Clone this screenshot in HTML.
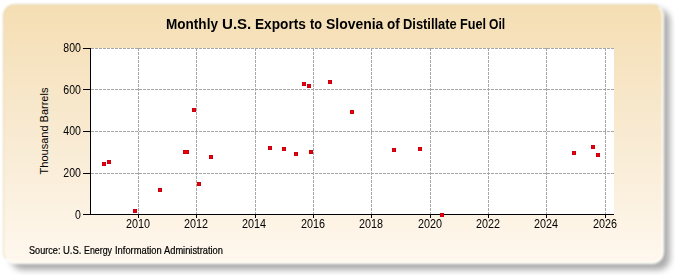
<!DOCTYPE html><html><head><meta charset="utf-8"><style>
html,body{margin:0;padding:0;background:#fff;width:675px;height:275px;overflow:hidden}
body{position:relative;font-family:"Liberation Sans",sans-serif}
.a{position:absolute}
#shadow{left:11px;top:9px;width:658.5px;height:260.5px;border-radius:12px;background:rgba(0,0,0,0.33);filter:blur(3px)}
#panel{left:2.5px;top:3.5px;width:661.5px;height:260px;border-radius:12px;box-sizing:border-box;
 border-style:solid;border-width:1px 2px 2px 1px;border-color:rgba(215,205,165,0.6) rgba(255,255,252,0.95) rgba(255,255,252,0.95) rgba(215,205,165,0.6);
 background:linear-gradient(to bottom,#F5DEB3 0%,#F8E9CF 45%,#FFF8EE 100%);filter:blur(0.9px)}
#plot{left:91px;top:48px;width:523px;height:166px;background:#fff}
.hg{height:1px;left:91px;width:523px;background:repeating-linear-gradient(to right,#a6a6a6 0 3px,transparent 3px 4px)}
.vg{width:1px;top:48px;height:166px;background:repeating-linear-gradient(to bottom,#a6a6a6 0 3px,transparent 3px 4px)}
.pt{width:4px;height:4px;background:#f20000;box-shadow:inset 0 0 0 1px rgba(185,0,25,0.75)}
.blk{background:#000}
.yl{font-size:12px;line-height:12px;text-align:right;width:40px;color:#000;transform:scaleX(0.88);transform-origin:right center}
.xl{font-size:12px;line-height:12px;text-align:center;width:40px;color:#000;transform:scaleX(0.9)}
.tt{top:16px;font-weight:bold;font-size:14px;line-height:16px;color:#000;white-space:nowrap;transform-origin:0 0}
.st{top:244.5px;font-size:10px;line-height:12px;color:#000;-webkit-text-stroke:0.2px #000;white-space:nowrap;transform-origin:0 0}
#ytitle{left:43.5px;top:131px;font-size:11px;line-height:12px;color:#000;white-space:nowrap;transform:translate(-50%,-50%) rotate(-90deg)}
</style></head><body>
<div id="shadow" class="a"></div>
<div id="panel" class="a"></div>
<div id="plot" class="a"></div>
<div class="a hg" style="top:48px"></div>
<div class="a hg" style="top:89px"></div>
<div class="a hg" style="top:131px"></div>
<div class="a hg" style="top:173px"></div>
<div class="a vg" style="left:138px"></div>
<div class="a vg" style="left:196px"></div>
<div class="a vg" style="left:255px"></div>
<div class="a vg" style="left:313px"></div>
<div class="a vg" style="left:371px"></div>
<div class="a vg" style="left:430px"></div>
<div class="a vg" style="left:488px"></div>
<div class="a vg" style="left:546px"></div>
<div class="a vg" style="left:605px"></div>
<div class="a blk" style="left:90px;top:48px;width:1px;height:167px"></div>
<div class="a blk" style="left:90px;top:214px;width:524px;height:1px"></div>
<div class="a blk" style="left:83px;top:48px;width:7px;height:1px"></div>
<div class="a yl" style="left:41px;top:42px">800</div>
<div class="a blk" style="left:83px;top:89px;width:7px;height:1px"></div>
<div class="a yl" style="left:41px;top:84px">600</div>
<div class="a blk" style="left:83px;top:131px;width:7px;height:1px"></div>
<div class="a yl" style="left:41px;top:125px">400</div>
<div class="a blk" style="left:83px;top:173px;width:7px;height:1px"></div>
<div class="a yl" style="left:41px;top:167px">200</div>
<div class="a blk" style="left:83px;top:214px;width:7px;height:1px"></div>
<div class="a yl" style="left:41px;top:209px">0</div>
<div class="a blk" style="left:138px;top:215px;width:1px;height:3px"></div>
<div class="a xl" style="left:118px;top:218px">2010</div>
<div class="a blk" style="left:196px;top:215px;width:1px;height:3px"></div>
<div class="a xl" style="left:176px;top:218px">2012</div>
<div class="a blk" style="left:255px;top:215px;width:1px;height:3px"></div>
<div class="a xl" style="left:234px;top:218px">2014</div>
<div class="a blk" style="left:313px;top:215px;width:1px;height:3px"></div>
<div class="a xl" style="left:293px;top:218px">2016</div>
<div class="a blk" style="left:371px;top:215px;width:1px;height:3px"></div>
<div class="a xl" style="left:351px;top:218px">2018</div>
<div class="a blk" style="left:430px;top:215px;width:1px;height:3px"></div>
<div class="a xl" style="left:410px;top:218px">2020</div>
<div class="a blk" style="left:488px;top:215px;width:1px;height:3px"></div>
<div class="a xl" style="left:468px;top:218px">2022</div>
<div class="a blk" style="left:546px;top:215px;width:1px;height:3px"></div>
<div class="a xl" style="left:526px;top:218px">2024</div>
<div class="a blk" style="left:605px;top:215px;width:1px;height:3px"></div>
<div class="a xl" style="left:585px;top:218px">2026</div>
<div class="a pt" style="left:102px;top:162px;width:4px"></div>
<div class="a pt" style="left:107px;top:160px;width:4px"></div>
<div class="a pt" style="left:133px;top:209px;width:4px"></div>
<div class="a pt" style="left:158px;top:188px;width:4px"></div>
<div class="a pt" style="left:183px;top:150px;width:6px"></div>
<div class="a pt" style="left:192px;top:108px;width:4px"></div>
<div class="a pt" style="left:197px;top:182px;width:4px"></div>
<div class="a pt" style="left:209px;top:155px;width:4px"></div>
<div class="a pt" style="left:268px;top:146px;width:4px"></div>
<div class="a pt" style="left:282px;top:147px;width:4px"></div>
<div class="a pt" style="left:294px;top:152px;width:4px"></div>
<div class="a pt" style="left:302px;top:82px;width:4px"></div>
<div class="a pt" style="left:307px;top:84px;width:4px"></div>
<div class="a pt" style="left:309px;top:150px;width:4px"></div>
<div class="a pt" style="left:328px;top:80px;width:4px"></div>
<div class="a pt" style="left:350px;top:110px;width:4px"></div>
<div class="a pt" style="left:392px;top:148px;width:4px"></div>
<div class="a pt" style="left:418px;top:147px;width:4px"></div>
<div class="a pt" style="left:440px;top:213px;width:4px"></div>
<div class="a pt" style="left:572px;top:151px;width:4px"></div>
<div class="a pt" style="left:591px;top:145px;width:4px"></div>
<div class="a pt" style="left:596px;top:153px;width:4px"></div>
<div class="a tt" style="left:165.93px;transform:scaleX(0.968)">Monthly</div>
<div class="a tt" style="left:221.62px;transform:scaleX(1.076)">U.S.</div>
<div class="a tt" style="left:255.22px;transform:scaleX(0.976)">Exports</div>
<div class="a tt" style="left:310.40px;transform:scaleX(0.908)">to</div>
<div class="a tt" style="left:326.00px;transform:scaleX(0.996)">Slovenia</div>
<div class="a tt" style="left:387.30px;transform:scaleX(0.962)">of</div>
<div class="a tt" style="left:403.08px;transform:scaleX(0.921)">Distillate</div>
<div class="a tt" style="left:459.80px;transform:scaleX(0.904)">Fuel</div>
<div class="a tt" style="left:489.14px;transform:scaleX(0.865)">Oil</div>
<div id="ytitle" class="a">Thousand Barrels</div>
<div class="a st" style="left:28.79px;transform:scaleX(0.912)">Source:</div>
<div class="a st" style="left:62.95px;transform:scaleX(0.950)">U.S.</div>
<div class="a st" style="left:84.12px;transform:scaleX(0.884)">Energy</div>
<div class="a st" style="left:114.97px;transform:scaleX(0.935)">Information</div>
<div class="a st" style="left:163.80px;transform:scaleX(0.930)">Administration</div>
</body></html>
